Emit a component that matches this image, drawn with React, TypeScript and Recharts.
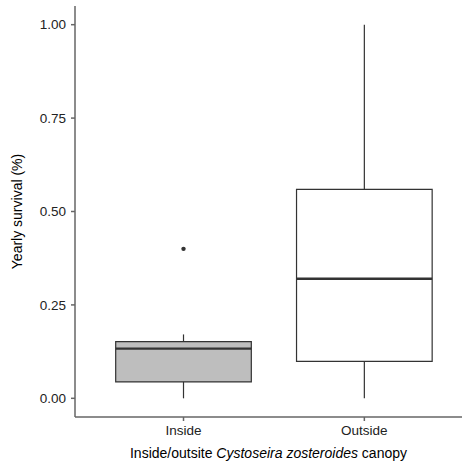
import { ComposedChart, XAxis, YAxis, ReferenceArea, ReferenceLine, Scatter, Label } from "recharts";

const groups = ["Inside", "Outside"];
const positions = [1, 2];
const whiskerLow = [0, 0];
const q1 = [0.044, 0.099];
const median = [0.133, 0.32];
const q3 = [0.152, 0.559];
const whiskerHigh = [0.171, 1.0];
const boxFills = ["#BEBEBE", "#FFFFFF"];
const outliers = [{ x: 1, y: 0.4 }];
const yTicks = [0, 0.25, 0.5, 0.75, 1];

const font = "Liberation Sans, Arial, sans-serif";
const halfWidth = 0.375;

function YTitle(props: any) {
  const vb = props.viewBox;
  const cx = vb.x + 17;
  const cy = vb.y + vb.height / 2;
  return (
    <text x={cx} y={cy} transform={`rotate(-90 ${cx} ${cy})`} textAnchor="middle" dominantBaseline="central"
      fontFamily={font} fontSize={14} fill="#000">
      Yearly survival (%)
    </text>
  );
}

function XTitle(props: any) {
  const vb = props.viewBox;
  return (
    <text x={vb.x + vb.width / 2} y={vb.y + 41} textAnchor="middle" fontFamily={font} fontSize={14} fill="#000">
      <tspan>Inside/outsite </tspan>
      <tspan fontStyle="italic">Cystoseira zosteroides</tspan>
      <tspan> canopy</tspan>
    </text>
  );
}

const tickStyle = { fill: "#222", fontSize: 13.5, fontFamily: font };

export default function App() {
  return (
    <div style={{ position: "absolute", left: 0, top: 0 }}>
      <ComposedChart width={462} height={466} margin={{ top: 6, right: 0, bottom: 0, left: 0 }}
        style={{ fontFamily: font, fontSize: 13.5 }}>
        <XAxis
          type="number"
          dataKey="x"
          domain={[0.4, 2.54]}
          ticks={positions}
          allowDataOverflow
          tickFormatter={(v: number) => groups[positions.indexOf(v)] ?? ""}
          height={49}
          tickSize={4}
          tickMargin={4}
          stroke="#666"
          strokeWidth={1.5}
          fontSize={13.5}
          tick={tickStyle}
        >
          <Label content={<XTitle />} />
        </XAxis>
        <YAxis
          type="number"
          dataKey="y"
          domain={[-0.05, 1.05]}
          ticks={yTicks}
          allowDataOverflow
          width={75}
          tickSize={4}
          tickMargin={5}
          stroke="#666"
          strokeWidth={1.5}
          fontSize={13.5}
          tickFormatter={(v: number) => v.toFixed(2)}
          tick={tickStyle}
        >
          <Label content={<YTitle />} />
        </YAxis>
        {positions.map((p, i) => (
          <ReferenceLine key={`wl${i}`} segment={[{ x: p, y: whiskerLow[i] }, { x: p, y: q1[i] }]} stroke="#333" strokeWidth={1.2} />
        ))}
        {positions.map((p, i) => (
          <ReferenceLine key={`wh${i}`} segment={[{ x: p, y: q3[i] }, { x: p, y: whiskerHigh[i] }]} stroke="#333" strokeWidth={1.2} />
        ))}
        {positions.map((p, i) => (
          <ReferenceArea key={`box${i}`} x1={p - halfWidth} x2={p + halfWidth} y1={q1[i]} y2={q3[i]}
            fill={boxFills[i]} fillOpacity={1} stroke="#333" strokeWidth={1.2} />
        ))}
        {positions.map((p, i) => (
          <ReferenceLine key={`med${i}`} segment={[{ x: p - halfWidth, y: median[i] }, { x: p + halfWidth, y: median[i] }]}
            stroke="#333" strokeWidth={2.4} />
        ))}
        <Scatter data={outliers} isAnimationActive={false}
          shape={(props: any) => <circle cx={props.cx} cy={props.cy} r={2.2} fill="#333" />} />
      </ComposedChart>
    </div>
  );
}
